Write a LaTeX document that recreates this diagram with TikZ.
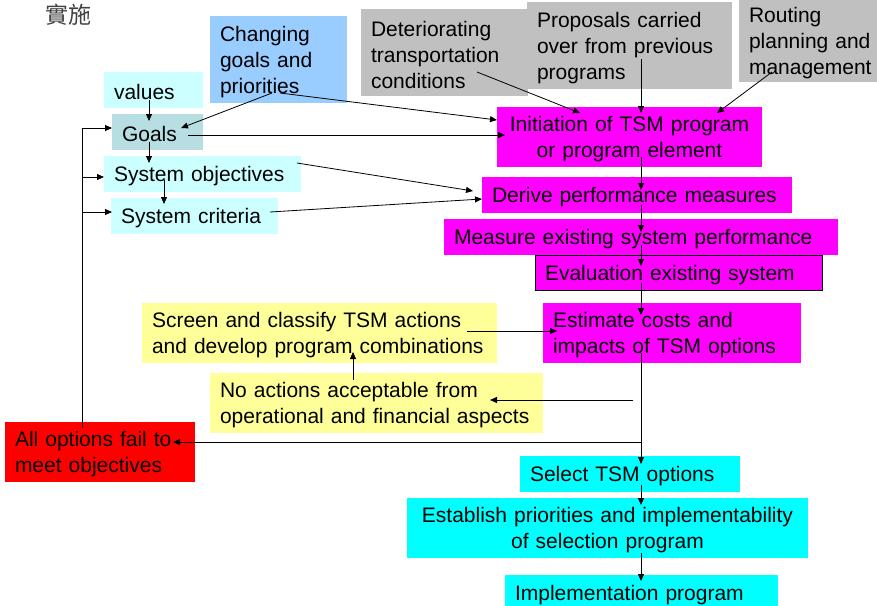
\documentclass[tikz,border=0pt]{standalone}
\usepackage{fontspec}
\setmainfont{Liberation Sans}
\newfontfamily\cjk{Noto Sans CJK TC}
\usetikzlibrary{calc,arrows.meta}
\definecolor{lcyan}{HTML}{CCFFFF}
\definecolor{goalc}{HTML}{B7DEE2}
\definecolor{lblue}{HTML}{99CCFF}
\definecolor{lgrey}{HTML}{C0C0C0}
\definecolor{mag}{HTML}{FF00FF}
\definecolor{lyellow}{HTML}{FFFF99}
\definecolor{cy}{HTML}{00FFFF}
\definecolor{titlegrey}{HTML}{404040}
\begin{document}
\begin{tikzpicture}[x=1pt,y=-1pt,
  box/.style={anchor=north west, inner xsep=10pt, inner ysep=0pt, outer sep=0pt,
    align=left, font=\fontsize{21}{26}\selectfont, text height=20pt},
  arr/.style={-{Triangle[length=7pt,width=6pt]}, line width=0.8pt},
  ln/.style={line width=0.8pt}]
\clip (0,0) rectangle (877,605);

% heading
\node[font=\cjk\fontsize{23}{23}\selectfont, text=titlegrey] (title) at (68,15) {實施};

% goal hierarchy
\node[box, fill=lcyan, text width=79pt, minimum height=36pt] (values) at (104,72) {values};
\node[box, fill=goalc, text width=71pt, minimum height=36pt] (goals) at (112,114) {Goals};
\node[box, fill=lcyan, text width=177pt, minimum height=36pt] (sysobj) at (104,156) {System objectives};
\node[box, fill=lcyan, text width=147pt, minimum height=36pt] (syscrit) at (111,198) {System criteria};

% external inputs
\node[box, fill=lblue, text width=117pt, minimum height=87pt] (change) at (210,16) {Changing\\goals and\\priorities};
\node[box, fill=lgrey, text width=147pt, minimum height=87pt] (deter) at (361,9) {Deteriorating\\transportation\\conditions};
\node[box, fill=lgrey, text width=185pt, minimum height=87pt] (propos) at (527,2) {Proposals carried\\over from previous\\programs};
\node[box, fill=lgrey, text width=130pt, minimum height=82pt] (routing) at (739,0) {Routing\\planning and\\management};

% main process
\node[box, fill=mag, text width=245pt, minimum height=60pt, align=center] (init) at (497,107) {Initiation of TSM program\\or program element};
\node[box, fill=mag, text width=290pt, minimum height=36pt] (derive) at (482,177) {Derive performance measures};
\node[box, fill=mag, draw=black, line width=0.8pt, text width=267pt, minimum height=35pt] (evalb) at (535,255) {Evaluation existing system};
\node[box, fill=mag, text width=374pt, minimum height=36pt] (measure) at (444,219) {Measure existing system performance};
\node[box, fill=mag, text width=238pt, minimum height=60pt] (estimate) at (543,303) {Estimate costs and\\impacts of TSM options};

% side loops
\node[box, fill=lyellow, text width=335pt, minimum height=60pt] (screen) at (142,303) {Screen and classify TSM actions\\and develop program combinations};
\node[box, fill=lyellow, text width=313pt, minimum height=60pt] (noact) at (210,373) {No actions acceptable from\\operational and financial aspects};
\node[box, fill=red, text width=170pt, minimum height=60pt] (allfail) at (5,422) {All options fail to\\meet objectives};

% selection and implementation
\node[box, fill=cy, text width=200pt, minimum height=36pt] (select) at (520,456) {Select TSM options};
\node[box, fill=cy, inner xsep=3pt, text width=395pt, minimum height=60pt, align=center] (establish) at (407,498) {Establish priorities and implementability\\of selection program};
\node[box, fill=cy, text width=253pt, minimum height=36pt] (impl) at (505,575) {Implementation program};

% goal hierarchy connectors
\draw[arr] ($(values.north west)+(45,28)$) -- ($(goals.north west)+(37,7)$);
\draw[arr] ($(goals.north west)+(37,28)$) -- ($(sysobj.north west)+(45,7)$);
\draw[arr] ($(sysobj.north west)+(60,24)$) -- ($(syscrit.north west)+(53,6)$);
\draw[arr] ($(change.north west)+(62,77)$) -- ($(goals.north west)+(69,14)$);

% inputs to the process
\draw[arr] ($(change.north west)+(70,77)$) -- ($(init.north west)+(0,13)$);
\draw[arr] ($(goals.north west)+(76,21)$) -- ($(init.north west)+(8,28)$);
\draw[arr] ($(sysobj.north west)+(193,7)$) -- ($(derive.north west)+(-9,14)$);
\draw[arr] ($(syscrit.north west)+(159,14)$) -- ($(derive.north west)+(0,22)$);
\draw[arr] ($(deter.north west)+(116,63)$) -- ($(init.north west)+(83,6)$);
\draw[arr] ($(propos.north west)+(114,57)$) -- ($(init.north west)+(144,6)$);
\draw[arr] ($(routing.north west)+(33,72)$) -- ($(init.north west)+(220,6)$);

% main trunk
\draw[arr] ($(init.north west)+(144,50)$) -- ($(derive.north west)+(159,13)$);
\draw[arr] ($(derive.north west)+(159,28)$) -- ($(measure.north west)+(197,13)$);
\draw[arr] ($(measure.north west)+(197,26)$) -- ($(evalb.north west)+(106,11)$);
\draw[arr] ($(evalb.north west)+(106,28)$) -- ($(estimate.north west)+(98,12)$);
\draw[arr] ($(estimate.north west)+(98,50)$) -- ($(select.north west)+(121,8)$);
\draw[arr] ($(select.north west)+(121,29)$) -- ($(establish.north west)+(234,7)$);
\draw[arr] ($(establish.north west)+(234,55)$) -- ($(impl.north west)+(136,6)$);

% feedback branches
\draw[arr] ($(screen.north west)+(325,28)$) -- ($(estimate.north west)+(14,28)$);
\coordinate (noactfork) at ($(estimate.north west)+(90,97)$);
\draw[arr] (noactfork) -- ($(noact.north west)+(280,27)$);
\draw[arr] ($(noact.north west)+(143,7)$) -- ($(screen.north west)+(211,49)$);
\coordinate (failfork) at ($(estimate.north west)+(98,139)$);
\draw[arr] (failfork) -- ($(allfail.north west)+(168,20)$);

% return loop to the goal hierarchy
\coordinate (loopbase) at ($(allfail.north west)+(77,6)$);
\coordinate (toobj) at ($(sysobj.north west)+(0,21)$);
\coordinate (tocrit) at ($(syscrit.north west)+(1,14)$);
\draw[arr] (loopbase) |- ($(goals.north west)+(0,14)$);
\draw[arr] (loopbase |- toobj) -- (toobj);
\draw[arr] (loopbase |- tocrit) -- (tocrit);
\end{tikzpicture}
\end{document}
